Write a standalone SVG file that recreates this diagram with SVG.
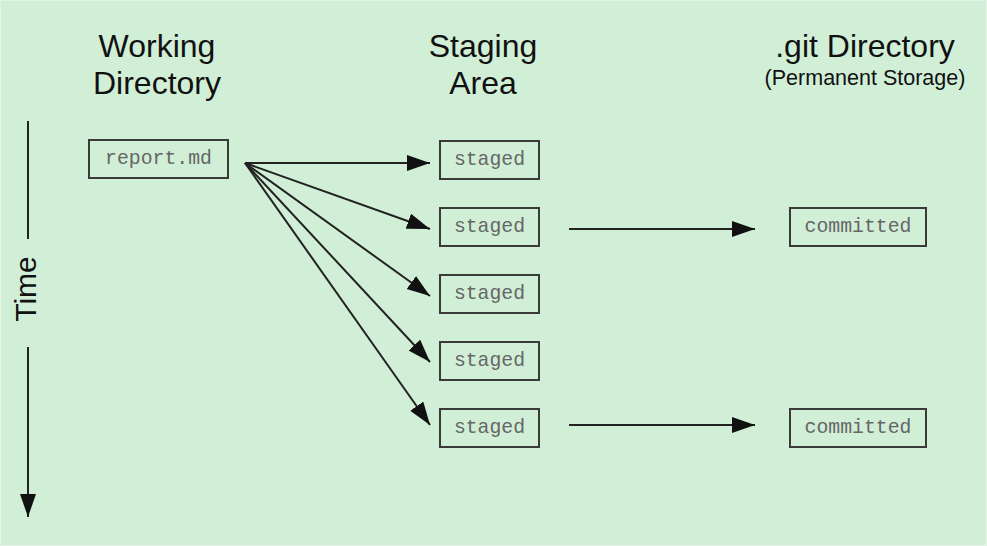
<svg xmlns="http://www.w3.org/2000/svg" width="987" height="546" viewBox="0 0 987 546">
  <defs>
    <marker id="head" markerUnits="userSpaceOnUse" markerWidth="24" markerHeight="17" refX="23" refY="8" orient="auto">
      <path d="M0,0 L23,8 L0,16 Z" fill="#111"/>
    </marker>
    <style>
      .heading { font-family: "Liberation Sans", Arial, sans-serif; font-size: 32px; fill: #111; text-anchor: middle; }
      .sub { font-family: "Liberation Sans", Arial, sans-serif; font-size: 21.5px; fill: #111; text-anchor: middle; }
      .box { fill: none; stroke: #3a3a3a; stroke-width: 2; }
      .label { font-family: "Liberation Mono", "Courier New", monospace; font-size: 19.8px; fill: #666; text-anchor: middle; }
      .link { fill: none; stroke: #222; stroke-width: 2; }
    </style>
  </defs>

  <!-- background -->
  <rect x="0" y="0" width="987" height="546" fill="#d1efd7"/>
  <rect x="0.5" y="0.5" width="986" height="545" fill="none" stroke="#e2f5e5" stroke-width="1"/>

  <!-- column headings -->
  <g id="headings">
    <text class="heading" x="157" y="57">Working</text>
    <text class="heading" x="157" y="94">Directory</text>
    <text class="heading" x="483" y="57">Staging</text>
    <text class="heading" x="483" y="94">Area</text>
    <text class="heading" x="865" y="57">.git Directory</text>
    <text class="sub" x="865" y="85">(Permanent Storage)</text>
  </g>

  <!-- time axis -->
  <g id="time-axis">
    <line class="link" x1="28" y1="121" x2="28" y2="239"/>
    <text font-family="Liberation Sans, Arial, sans-serif" font-size="30" fill="#111" text-anchor="middle" transform="translate(36,289) rotate(-90)">Time</text>
    <line class="link" x1="28" y1="347" x2="28" y2="517" marker-end="url(#head)"/>
  </g>

  <!-- nodes -->
  <g id="report">
    <rect class="box" x="89" y="140" width="139" height="38"/>
    <text class="label" x="158.5" y="163.5">report.md</text>
  </g>
  <g id="staged-1">
    <rect class="box" x="440" y="141" width="99" height="38"/>
    <text class="label" x="489.5" y="164.5">staged</text>
  </g>
  <g id="staged-2">
    <rect class="box" x="440" y="208" width="99" height="38"/>
    <text class="label" x="489.5" y="231.5">staged</text>
  </g>
  <g id="staged-3">
    <rect class="box" x="440" y="275" width="99" height="38"/>
    <text class="label" x="489.5" y="298.5">staged</text>
  </g>
  <g id="staged-4">
    <rect class="box" x="440" y="342" width="99" height="38"/>
    <text class="label" x="489.5" y="365.5">staged</text>
  </g>
  <g id="staged-5">
    <rect class="box" x="440" y="409" width="99" height="38"/>
    <text class="label" x="489.5" y="432.5">staged</text>
  </g>
  <g id="committed-1">
    <rect class="box" x="790" y="208" width="136" height="38"/>
    <text class="label" x="858" y="231.5">committed</text>
  </g>
  <g id="committed-2">
    <rect class="box" x="790" y="409" width="136" height="38"/>
    <text class="label" x="858" y="432.5">committed</text>
  </g>

  <!-- connectors -->
  <g id="connectors">
    <line class="link" x1="245" y1="163" x2="430" y2="163" marker-end="url(#head)"/>
    <line class="link" x1="245" y1="163" x2="430" y2="229" marker-end="url(#head)"/>
    <line class="link" x1="245" y1="163" x2="430" y2="296" marker-end="url(#head)"/>
    <line class="link" x1="245" y1="163" x2="430" y2="362" marker-end="url(#head)"/>
    <line class="link" x1="245" y1="163" x2="430" y2="425" marker-end="url(#head)"/>
    <line class="link" x1="569" y1="229" x2="755" y2="229" marker-end="url(#head)"/>
    <line class="link" x1="569" y1="425" x2="755" y2="425" marker-end="url(#head)"/>
  </g>
</svg>
